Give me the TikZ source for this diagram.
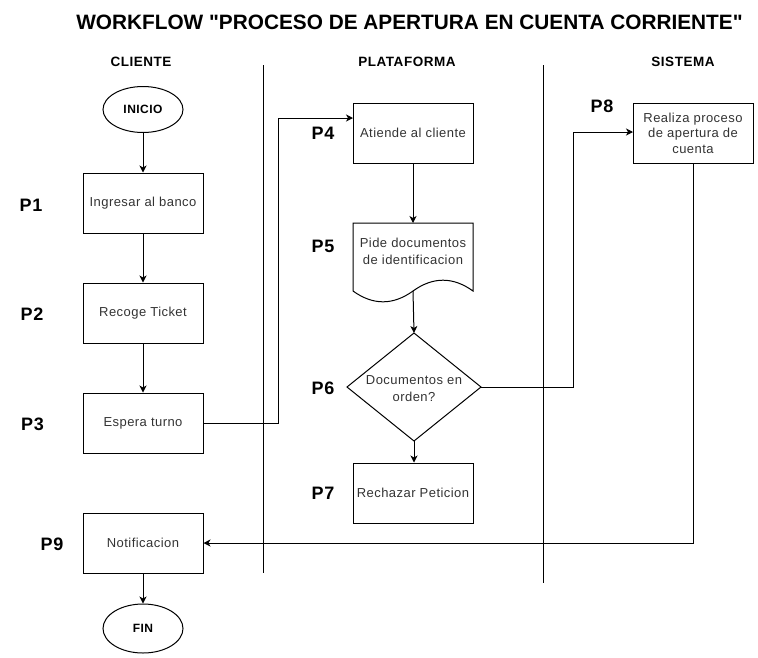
\documentclass[tikz,border=0pt]{standalone}
\usepackage{fontspec}
\setmainfont{Liberation Sans}
\newfontfamily\lsfont[LetterSpace=3.5]{Liberation Sans}
\newfontfamily\lsbfont[LetterSpace=4]{Liberation Sans Bold}
\newfontfamily\titlefont{Liberation Sans Bold}
\usetikzlibrary{shapes.geometric,arrows.meta}
\tikzset{
  every node/.style={inner sep=0pt},
  txt/.style={font=\lsfont\fontsize{13}{15.5}\selectfont, text=black!80},
  box/.style={txt, draw, line width=1pt, minimum width=120pt, minimum height=60pt, align=center},
  term/.style={draw, line width=1pt, ellipse, minimum width=80pt, minimum height=46pt,
    font=\lsbfont\fontsize{12}{14}\selectfont},
  plabel/.style={font=\lsbfont\fontsize{18}{20}\selectfont},
  lanehead/.style={font=\lsbfont\fontsize{13.5}{15}\selectfont},
  lane/.style={line width=1pt},
  shape line/.style={line width=1pt},
  conn/.style={line width=1pt, -{Stealth[length=7pt,width=7pt,inset=2pt]}},
}
\begin{document}
\begin{tikzpicture}[x=1pt,y=-1pt]
\useasboundingbox (0,0) rectangle (758,657);
% title
\node (title) at (409.5,22) {\titlefont\fontsize{20.8}{24}\selectfont WORKFLOW "PROCESO DE APERTURA EN CUENTA CORRIENTE"};
% lane headers
\node[lanehead] (hc) at (141,62) {CLIENTE};
\node[lanehead] (hp) at (407,62) {PLATAFORMA};
\node[lanehead] (hs) at (683,62) {SISTEMA};
% lane lines
\coordinate (l1t) at (263,65); \coordinate (l1b) at (263,573);
\coordinate (l2t) at (543,65); \coordinate (l2b) at (543,583);
\draw[lane] (l1t) -- (l1b);
\draw[lane] (l2t) -- (l2b);
% client lane
\node[term] (inicio) at (143,109.5) {INICIO};
\node[box] (p1) at (143,203) {Ingresar al banco};
\node[box] (p2) at (143,313) {Recoge Ticket};
\node[box] (p3) at (143,423) {Espera turno};
\node[box] (p9) at (143,543) {Notificacion};
\node[term, minimum height=49pt] (fin) at (143,628.5) {FIN};
% plataforma lane
\node[box] (p4) at (413,133) {Atiende al cliente};
% document shape P5
\coordinate (d5tl) at (353,223);
\coordinate (d5tr) at (473,223);
\coordinate (d5r) at (473,291);
\coordinate (d5m) at (413,291);
\coordinate (d5l) at (353,291);
\draw[shape line] (d5l) -- (d5tl) -- (d5tr) -- (d5r)
   .. controls (453,276.6) and (433,276.6) .. (d5m)
   .. controls (393,305.4) and (373,305.4) .. (d5l) -- cycle;
\node[txt, align=center, font=\lsfont\fontsize{13}{16.5}\selectfont] (p5) at (413,251.5) {Pide documentos\\de identificacion};
% decision P6
\coordinate (p6n) at (414,333);
\coordinate (p6e) at (481,387);
\coordinate (p6s) at (414,441);
\coordinate (p6w) at (347,387);
\draw[shape line] (p6n) -- (p6e) -- (p6s) -- (p6w) -- cycle;
\node[txt, align=center, font=\lsfont\fontsize{13}{16.5}\selectfont] (p6) at (414,388.5) {Documentos en\\orden?};
\node[box] (p7) at (413,493) {Rechazar Peticion};
% sistema lane
\node[box] (p8) at (693,133) {Realiza proceso\\de apertura de\\cuenta};
% step labels
\node[plabel] (lp1) at (31,205) {P1};
\node[plabel] (lp2) at (32,314) {P2};
\node[plabel] (lp3) at (32.5,424) {P3};
\node[plabel] (lp4) at (323,133) {P4};
\node[plabel] (lp5) at (323,246) {P5};
\node[plabel] (lp6) at (323,388) {P6};
\node[plabel] (lp7) at (323,493) {P7};
\node[plabel] (lp8) at (602,106) {P8};
\node[plabel] (lp9) at (52,544) {P9};
% connectors
\draw[conn] (inicio) -- (p1);
\draw[conn] (p1) -- (p2);
\draw[conn] (p2) -- (p3);
\coordinate (c3a) at (278,423);
\coordinate (c3b) at (278,118);
\coordinate (p4in) at (353,118);
\draw[conn] (p3.east) -- (c3a) -- (c3b) -- (p4in);
\draw[conn] (p4) -- (d5tl -| p4);
\draw[conn] (d5m) -- (p6n);
\draw[conn] (p6s) -- (p7.north -| p6s);
\coordinate (c6a) at (573,387);
\coordinate (c6b) at (573,132);
\coordinate (p8in) at (633,132);
\draw[conn] (p6e) -- (c6a) -- (c6b) -- (p8in);
\coordinate (c8a) at (693,543);
\draw[conn] (p8.south) -- (c8a) -- (p9.east);
\draw[conn] (p9) -- (fin);
\end{tikzpicture}
\end{document}
